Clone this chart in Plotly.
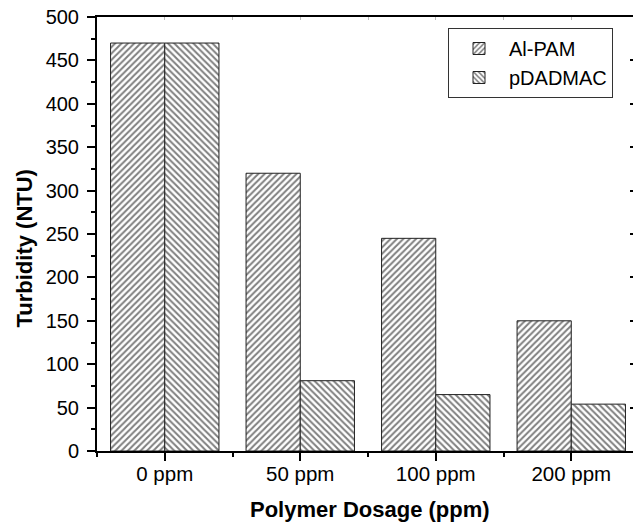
import plotly.graph_objects as go

categories = ["0 ppm", "50 ppm", "100 ppm", "200 ppm"]
al_pam = [470, 320, 245, 150]
pdadmac = [470, 81, 65, 54]
series_names = ["Al-PAM", "pDADMAC"]
y_ticks = list(range(0, 501, 50))

FONT = "Arial, Liberation Sans, sans-serif"
xpos = list(range(len(categories)))

fig = go.Figure()
fig.add_trace(go.Bar(
    x=xpos, y=al_pam, name=series_names[0],
    marker=dict(color="white", line=dict(color="#222222", width=1),
                pattern=dict(shape="/", fgcolor="black", bgcolor="white", size=4.5, solidity=0.45)),
))
fig.add_trace(go.Bar(
    x=xpos, y=pdadmac, name=series_names[1],
    marker=dict(color="white", line=dict(color="#222222", width=1),
                pattern=dict(shape="\\", fgcolor="black", bgcolor="white", size=4.5, solidity=0.45)),
))
# invisible helper trace so the mirrored tick axes render
fig.add_trace(go.Scatter(x=[xpos[0]], y=[0], xaxis="x2", yaxis="y2", mode="markers",
                         marker=dict(opacity=0), showlegend=False, hoverinfo="skip"))

x_right = 3.5 - 6 / 135.0

fig.update_layout(
    width=633, height=527,
    margin=dict(l=97, r=0, t=17, b=76),
    plot_bgcolor="white", paper_bgcolor="white",
    barmode="group", bargap=0.2, bargroupgap=0,
    font=dict(family=FONT, size=20, color="black"),
    xaxis=dict(
        range=[-0.5, x_right], tickmode="array", tickvals=xpos, ticktext=categories,
        ticks="outside", ticklen=8, tickwidth=1.5, tickcolor="black",
        showline=True, linecolor="black", linewidth=2, mirror=True,
        showgrid=False, zeroline=False,
        minor=dict(tickmode="linear", tick0=0.5, dtick=1, ticks="outside", ticklen=4, tickwidth=1.5, tickcolor="black"),
        tickfont=dict(size=20.5, family=FONT), ticklabelstandoff=-5,
    ),
    yaxis=dict(
        range=[0, 500], tickmode="array", tickvals=y_ticks,
        ticks="outside", ticklen=8, tickwidth=1.5, tickcolor="black",
        showline=True, linecolor="black", linewidth=2, mirror=False,
        showgrid=False, zeroline=False,
        minor=dict(tickmode="linear", tick0=25, dtick=50, ticks="outside", ticklen=4, tickwidth=1.5, tickcolor="black"),
        tickfont=dict(size=20, family=FONT), ticklabelstandoff=4,
    ),
    xaxis2=dict(
        overlaying="x", side="top", range=[-0.5, x_right], tickmode="linear", tick0=0, dtick=0.5,
        ticks="inside", ticklen=3, tickwidth=1, tickcolor="#bbbbbb",
        showticklabels=False, showline=False, showgrid=False, zeroline=False,
    ),
    yaxis2=dict(
        overlaying="y", side="right", anchor="x", range=[0, 500], tickmode="array", tickvals=y_ticks,
        ticks="inside", ticklen=3, tickwidth=1.5, tickcolor="black",
        showticklabels=False, showline=False, showgrid=False, zeroline=False,
    ),
    legend=dict(
        x=(448 - 97) / 536, y=(451 - 28) / 434, xanchor="left", yanchor="top",
        bordercolor="#333333", borderwidth=1, bgcolor="white",
        font=dict(size=20, family=FONT), itemwidth=50, tracegroupgap=0,
    ),
    annotations=[
        dict(text="<b>Turbidity (NTU)</b>", textangle=-90, xref="paper", yref="paper",
             x=(24 - 97) / 536, y=(451 - 248.5) / 434, xanchor="center", yanchor="middle",
             showarrow=False, font=dict(size=22, family=FONT)),
        dict(text="<b>Polymer Dosage (ppm)</b>", xref="paper", yref="paper",
             x=(370 - 97) / 536, y=(451 - 510) / 434, xanchor="center", yanchor="middle",
             showarrow=False, font=dict(size=22, family=FONT)),
    ],
)

fig.write_html("out.html")
